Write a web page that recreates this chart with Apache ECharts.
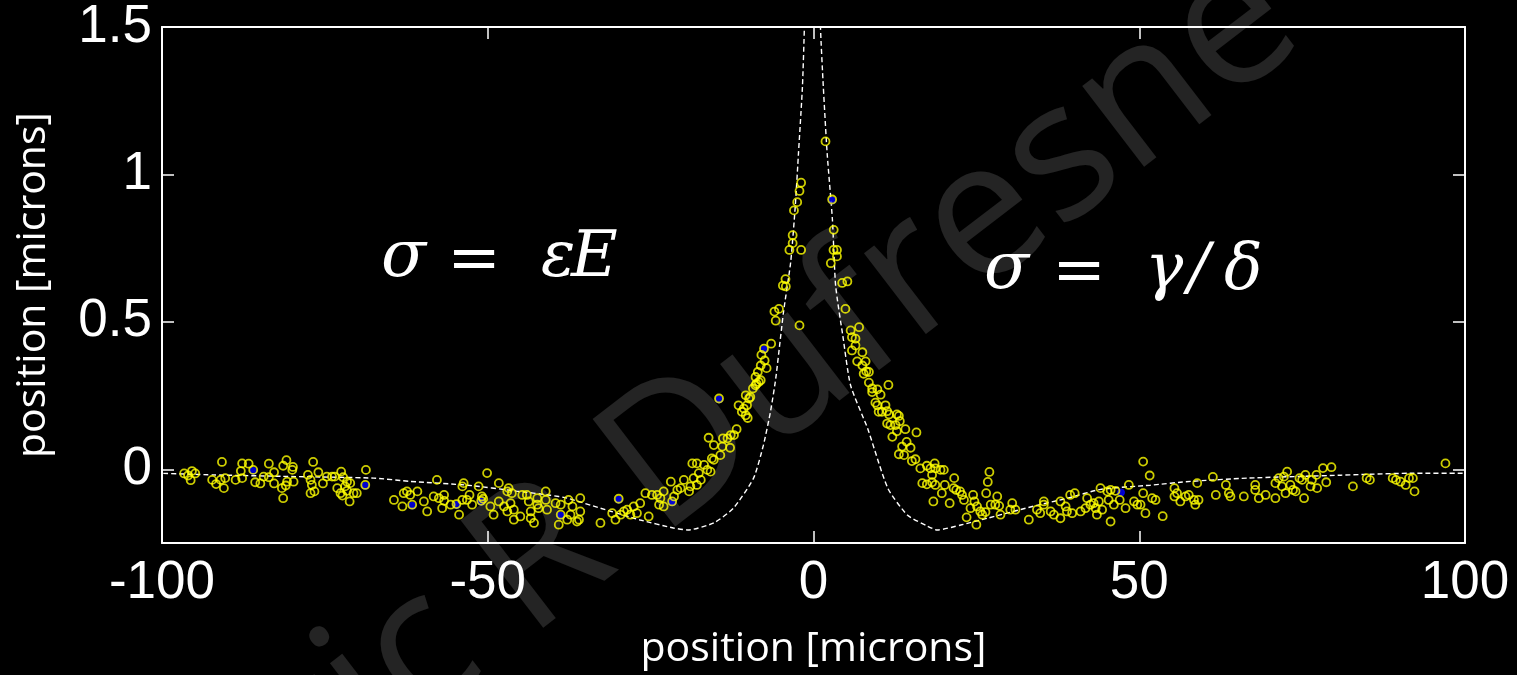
<!DOCTYPE html>
<html><head><meta charset="utf-8">
<script src="https://cdn.jsdelivr.net/npm/echarts@6/dist/echarts.min.js"></script>
<style>html,body{margin:0;padding:0;background:#000;}#c{width:1517px;height:675px;}</style>
</head><body><div id="c"></div>
<script>
const xTicks = [-100, -50, 0, 50, 100];
const yTicks = [0, 0.5, 1, 1.5];
const xTitle = 'position [microns]';
const yTitle = 'position [microns]';
const watermark = 'Eric R Dufresne';

// theoretical curve (white dashed)
const curveLeft = [[-99.8,-0.014],[-92.1,-0.019],[-81.4,-0.024],[-67.5,-0.030],[-61.9,-0.041],[-53.1,-0.054],[-45.6,-0.074],[-40.4,-0.088],[-37.8,-0.098],[-32.7,-0.132],[-26.6,-0.172],[-21.5,-0.199],[-19.3,-0.206],[-15.3,-0.182],[-12.3,-0.132],[-9.2,-0.030],[-7.7,0.081],[-6.6,0.196],[-5.8,0.307],[-4.6,0.534],[-3.5,0.703],[-2.8,0.892],[-2.3,1.074],[-1.7,1.297],[-1.4,1.5],[-0.9,2.0]];
const curveRight = [[0.6,2.0],[1.07,1.5],[1.5,1.30],[2.1,1.07],[2.9,0.848],[3.4,0.622],[4.5,0.453],[5.7,0.284],[8.3,0.139],[11.4,-0.064],[14.4,-0.155],[17.5,-0.193],[19.0,-0.206],[22.6,-0.189],[26.7,-0.166],[33.8,-0.125],[39.0,-0.098],[44.1,-0.068],[51.7,-0.054],[57.9,-0.041],[66.6,-0.030],[80.9,-0.020],[91.6,-0.0135],[99.8,-0.0135]];

// measured points (yellow circles)
const pointsFarLeft = [[-96.6,-0.014],[-96.0,-0.021],[-95.4,-0.006],[-94.9,-0.014],[-95.6,-0.037],[-90.8,0.025],[-92.3,-0.036],[-91.7,-0.050],[-91.0,-0.036],[-90.3,-0.030],[-90.5,-0.064],[-88.7,-0.036],[-87.9,-0.006],[-87.7,0.020],[-86.7,0.019],[-87.7,-0.030],[-86.0,-0.002],[-85.7,-0.044],[-84.9,-0.048],[-84.4,-0.025],[-83.6,-0.027],[-83.6,0.019],[-82.8,-0.010],[-82.8,-0.048],[-81.4,0.012],[-80.9,0.031],[-80.0,-0.002],[-79.9,0.008],[-80.8,-0.042],[-79.8,-0.042],[-81.6,-0.064],[-81.0,-0.055],[-81.4,-0.098],[-77.6,-0.019],[-77.2,-0.036],[-76.8,0.025],[-76.0,-0.010],[-77.0,-0.053],[-77.2,-0.081],[-76.6,-0.075],[-75.3,-0.048],[-74.7,-0.025],[-73.9,-0.025],[-73.5,-0.025],[-72.5,-0.008],[-72.2,-0.027],[-71.6,-0.042],[-71.1,-0.047],[-71.9,-0.058],[-73.1,-0.064],[-72.6,-0.081],[-72.3,-0.089],[-71.6,-0.073],[-70.6,-0.081],[-70.1,-0.081],[-71.2,-0.109],[-68.8,-0.053],[-68.7,-0.002]];
const pointsLeft = [[-62.9,-0.081],[-62.4,-0.075],[-61.9,-0.087],[-60.8,-0.075],[-64.4,-0.104],[-63.1,-0.126],[-61.6,-0.120],[-59.8,-0.109],[-59.3,-0.143],[-57.8,-0.036],[-58.3,-0.092],[-57.5,-0.098],[-56.7,-0.087],[-56.7,-0.107],[-57.0,-0.132],[-55.7,-0.120],[-54.8,-0.118],[-53.9,-0.104],[-54.4,-0.154],[-53.7,-0.047],[-53.9,-0.058],[-53.2,-0.104],[-52.8,-0.087],[-52.4,-0.120],[-51.4,-0.058],[-50.9,-0.092],[-50.7,-0.100],[-51.0,-0.107],[-50.1,-0.013],[-49.6,-0.126],[-49.1,-0.154],[-48.3,-0.109],[-48.3,-0.047],[-47.5,-0.126],[-47.0,-0.143],[-46.5,-0.115],[-46.0,-0.137],[-46.8,-0.064],[-46.3,-0.081],[-47.0,-0.075],[-44.7,-0.087],[-45.0,-0.160],[-46.0,-0.171],[-43.7,-0.109],[-43.4,-0.143],[-43.4,-0.166],[-42.9,-0.182],[-42.4,-0.120],[-42.2,-0.132],[-41.1,-0.104],[-40.9,-0.137],[-41.1,-0.075],[-42.4,-0.098],[-44.0,-0.087]];
const pointsNearLeft = [[-39.6,-0.115],[-38.8,-0.120],[-37.6,-0.104],[-37.0,-0.126],[-35.8,-0.098],[-35.8,-0.143],[-37.3,-0.154],[-36.3,-0.177],[-36.0,-0.171],[-37.8,-0.171],[-38.8,-0.154],[-39.1,-0.188],[-32.7,-0.182],[-30.9,-0.149],[-29.9,-0.100],[-30.4,-0.171],[-29.6,-0.154],[-29.1,-0.143],[-28.6,-0.137],[-28.1,-0.154],[-27.6,-0.126],[-27.1,-0.149],[-26.6,-0.115],[-25.3,-0.160],[-25.8,-0.081],[-24.8,-0.087],[-24.0,-0.087],[-23.0,-0.075],[-23.5,-0.098],[-23.7,-0.120],[-23.0,-0.126],[-21.9,-0.042],[-21.7,-0.109],[-21.4,-0.092],[-20.9,-0.070],[-20.4,-0.064],[-19.9,-0.036],[-19.1,-0.075],[-18.9,-0.058],[-18.4,-0.030],[-17.9,-0.053],[-17.3,-0.036],[-18.6,0.020],[-17.9,0.020],[-16.8,0.015],[-16.3,-0.002],[-15.8,-0.008],[-17.6,-0.013],[-15.6,0.037],[-15.3,0.032],[-16.1,0.107],[-15.3,0.082],[-14.0,0.077],[-14.3,0.048],[-13.9,0.105],[-13.2,0.105],[-12.7,0.116],[-12.2,0.116],[-11.8,0.136],[-12.8,0.073],[-11.5,0.217],[-10.7,0.206],[-10.2,0.217],[-11.0,0.195],[-10.4,0.183],[-10.1,0.174],[-9.9,0.240],[-9.7,0.245],[-9.3,0.274],[-8.9,0.285],[-8.4,0.296],[-14.5,0.240]];
const pointsPeakLeft = [[-1.9,0.972],[-2.15,0.944],[-2.5,0.906],[-3.0,0.878],[-3.2,0.794],[-3.2,0.767],[-3.7,0.744],[-1.9,0.744],[-4.3,0.645],[-4.7,0.623],[-4.25,0.620],[-5.3,0.544],[-6.0,0.535],[-5.8,0.504],[-2.15,0.488],[-6.5,0.426],[-7.6,0.409],[-8.0,0.388],[-7.5,0.369],[-8.1,0.352],[-7.2,0.343],[-8.55,0.330],[-8.9,0.313],[-8.1,0.302],[-8.75,0.290],[-10.4,0.251]];
const pointsPeakRight = [[1.84,1.112],[2.86,0.915],[3.1,0.812],[3.07,0.744],[3.6,0.744],[3.6,0.722],[2.66,0.699],[4.4,0.632],[5.2,0.637],[4.9,0.544],[5.7,0.471],[7.0,0.482],[5.9,0.448],[6.45,0.443],[6.45,0.420],[5.9,0.403],[7.5,0.397],[6.7,0.366],[8.0,0.366],[7.5,0.352],[8.1,0.332],[8.5,0.330],[7.7,0.324],[8.5,0.294],[9.0,0.274],[9.8,0.271],[10.3,0.253],[11.5,0.286]];
const pointsNearRight = [[9.0,0.262],[9.5,0.226],[9.8,0.217],[11.05,0.217],[10.0,0.195],[10.5,0.195],[11.3,0.197],[11.6,0.186],[12.8,0.186],[13.1,0.181],[13.25,0.163],[11.3,0.155],[11.8,0.150],[12.6,0.150],[12.8,0.129],[14.1,0.136],[12.1,0.110],[15.8,0.125],[14.3,0.093],[13.6,0.077],[14.9,0.073],[13.9,0.048],[13.1,0.051],[15.1,0.028],[15.65,0.034],[16.4,0.003],[17.4,0.012],[17.95,0.003],[18.6,0.020],[18.7,0.003],[19.5,-0.002],[20.0,-0.002],[18.2,-0.019],[18.2,-0.044],[16.7,-0.047],[17.4,-0.051],[18.7,-0.053],[20.15,-0.053],[19.7,-0.081],[18.4,-0.109],[20.9,-0.115],[21.6,-0.030],[21.5,-0.064],[21.9,-0.070],[22.5,-0.075],[22.8,-0.087],[23.1,-0.104],[24.5,-0.087],[24.7,-0.109],[24.1,-0.132],[25.1,-0.126],[25.6,-0.143],[25.9,-0.154],[26.4,-0.145],[23.5,-0.163],[25.0,-0.188],[27.0,-0.009],[26.75,-0.043],[26.5,-0.081],[28.2,-0.092],[27.2,-0.120],[27.9,-0.120],[28.5,-0.124],[28.7,-0.154]];
const pointsRight = [[30.5,-0.115],[30.2,-0.137],[31.0,-0.137],[33.05,-0.171],[34.3,-0.137],[34.8,-0.149],[35.35,-0.109],[35.35,-0.120],[36.4,-0.143],[36.9,-0.154],[37.9,-0.109],[37.9,-0.166],[38.7,-0.126],[38.9,-0.143],[39.4,-0.087],[40.1,-0.081],[39.7,-0.149],[41.0,-0.143],[41.75,-0.132],[42.0,-0.098],[42.5,-0.120],[43.0,-0.115],[43.3,-0.132],[43.5,-0.154],[43.8,-0.109],[44.3,-0.137],[44.05,-0.064],[45.1,-0.075],[45.6,-0.070],[46.35,-0.073],[45.3,-0.104],[46.1,-0.120],[47.0,-0.104],[47.9,-0.132],[45.6,-0.177],[48.4,-0.053],[49.2,-0.109],[49.7,-0.120],[50.2,-0.120],[50.6,-0.081],[50.95,-0.149],[50.6,0.026],[51.6,-0.021]];
const pointsFarRight = [[51.98,-0.098],[52.5,-0.104],[53.6,-0.159],[55.4,-0.064],[55.8,-0.081],[55.4,-0.092],[56.3,-0.109],[57.1,-0.092],[57.6,-0.087],[58.4,-0.104],[58.6,-0.120],[59.1,-0.104],[58.9,-0.047],[61.3,-0.026],[61.75,-0.087],[63.3,-0.053],[63.75,-0.081],[64.0,-0.092],[66.05,-0.092],[67.8,-0.053],[67.8,-0.070],[68.35,-0.098],[69.4,-0.087],[70.9,-0.098],[70.9,-0.047],[71.4,-0.030],[72.2,-0.025],[72.7,-0.008],[71.9,-0.058],[72.45,-0.081],[73.2,-0.053],[73.6,-0.070],[74.0,-0.075],[74.6,-0.030],[75.0,-0.036],[75.5,-0.019],[75.3,-0.098],[76.3,-0.058],[76.5,-0.036],[77.2,-0.019],[77.3,-0.064],[78.2,0.004],[78.7,-0.044],[79.5,0.007],[82.8,-0.058],[84.9,-0.030],[85.4,-0.036],[88.9,-0.030],[89.4,-0.036],[90.1,-0.042],[90.9,-0.053],[91.4,-0.030],[92.0,-0.030],[92.25,-0.075],[97.0,0.020]];
// a few points also marked in blue
const bluePoints = [[-86.0,-0.002],[-68.8,-0.053],[-61.6,-0.120],[-54.8,-0.118],[-51.0,-0.107],[-38.8,-0.154],[-29.9,-0.100],[-21.7,-0.109],[-14.5,0.240],[-7.6,0.409],[2.86,0.915],[47.2,-0.075]];

const curve = curveLeft.concat(curveRight);
const yellow = [].concat(pointsFarLeft, pointsLeft, pointsNearLeft, pointsPeakLeft, pointsPeakRight, pointsNearRight, pointsRight, pointsFarRight);

const chart = echarts.init(document.getElementById('c'), null, {renderer: 'canvas'});
const W = '#ffffff';
const tickFont = 'Liberation Sans';
const mathFont = 'DejaVu Serif';

function mathText(txt, x, y, size, italic, align) {
  return {type: 'text', x: x, y: y, z: 50,
    style: {text: txt, fill: W, font: (italic ? 'italic ' : '') + size + 'px "' + mathFont + '"',
      align: align || 'left', verticalAlign: 'middle', textAlign: align || 'left', textVerticalAlign: 'middle'}};
}

chart.setOption({
  backgroundColor: '#000000',
  animation: false,
  graphic: [
    {type: 'text', x: 738, y: 410, rotation: 37.5 * Math.PI / 180, z: -10,
      style: {text: watermark, fill: 'rgba(255,255,255,0.14)', font: '190px "Open Sans"',
        align: 'center', verticalAlign: 'middle', textAlign: 'center', textVerticalAlign: 'middle'}},
    mathText('σ', 381, 259, 66, true),
    mathText('=', 474, 262, 64, false, 'center'),
    mathText('ε', 541, 259, 64, true),
    mathText('E', 571, 259, 64, true),
    mathText('σ', 984, 271, 66, true),
    mathText('=', 1079, 274, 64, false, 'center'),
    mathText('γ', 1145, 271, 64, true),
    mathText('/', 1188, 271, 64, true),
    mathText('δ', 1224, 271, 64, true)
  ],
  grid: {left: 162, top: 27, right: 52, bottom: 128, containLabel: false},
  xAxis: [{
    type: 'value', min: xTicks[0], max: xTicks[xTicks.length - 1], interval: 50, position: 'bottom',
    axisLine: {show: true, onZero: false, lineStyle: {color: W, width: 2}},
    axisTick: {show: true, inside: true, length: 12, lineStyle: {color: W, width: 1.5}},
    axisLabel: {show: true, color: W, fontSize: 53, fontFamily: tickFont, margin: 14, showMinLabel: true, showMaxLabel: true},
    splitLine: {show: false},
    name: xTitle, nameLocation: 'middle', nameGap: 86,
    nameTextStyle: {color: W, fontSize: 41, fontFamily: 'Open Sans'}
  }, {
    type: 'value', min: xTicks[0], max: xTicks[xTicks.length - 1], interval: 50, position: 'top',
    axisLine: {show: true, onZero: false, lineStyle: {color: W, width: 2}},
    axisTick: {show: true, inside: true, length: 12, lineStyle: {color: W, width: 1.5}},
    axisLabel: {show: false}, splitLine: {show: false}
  }],
  yAxis: [{
    type: 'value', min: -0.25, max: 1.5, position: 'left',
    axisLine: {show: true, onZero: false, lineStyle: {color: W, width: 2}},
    axisTick: {show: true, inside: true, length: 12, customValues: yTicks, lineStyle: {color: W, width: 1.5}},
    axisLabel: {show: true, color: W, fontSize: 53, fontFamily: tickFont, margin: 10, customValues: yTicks},
    splitLine: {show: false},
    name: yTitle, nameLocation: 'middle', nameGap: 108,
    nameTextStyle: {color: W, fontSize: 41, fontFamily: 'Open Sans'}
  }, {
    type: 'value', min: -0.25, max: 1.5, position: 'right',
    axisLine: {show: true, onZero: false, lineStyle: {color: W, width: 2}},
    axisTick: {show: true, inside: true, length: 12, customValues: yTicks, lineStyle: {color: W, width: 1.5}},
    axisLabel: {show: false}, splitLine: {show: false}
  }],
  series: [{
    type: 'line', data: curve, xAxisIndex: 0, yAxisIndex: 0, showSymbol: false, symbol: 'none',
    clip: true, z: 3, smooth: 0.2,
    lineStyle: {color: W, width: 1.4, type: [5, 3]}
  }, {
    type: 'scatter', data: bluePoints, symbol: 'circle', symbolSize: 7, symbolOffset: [0, 1], z: 4,
    itemStyle: {color: '#0000ff', borderColor: '#0000ff', borderWidth: 1}
  }, {
    type: 'scatter', data: yellow, symbol: 'circle', symbolSize: 8, z: 5,
    itemStyle: {color: 'rgba(0,0,0,0)', borderColor: '#ffff00', borderWidth: 1.8}
  }]
});
</script>
</body></html>
